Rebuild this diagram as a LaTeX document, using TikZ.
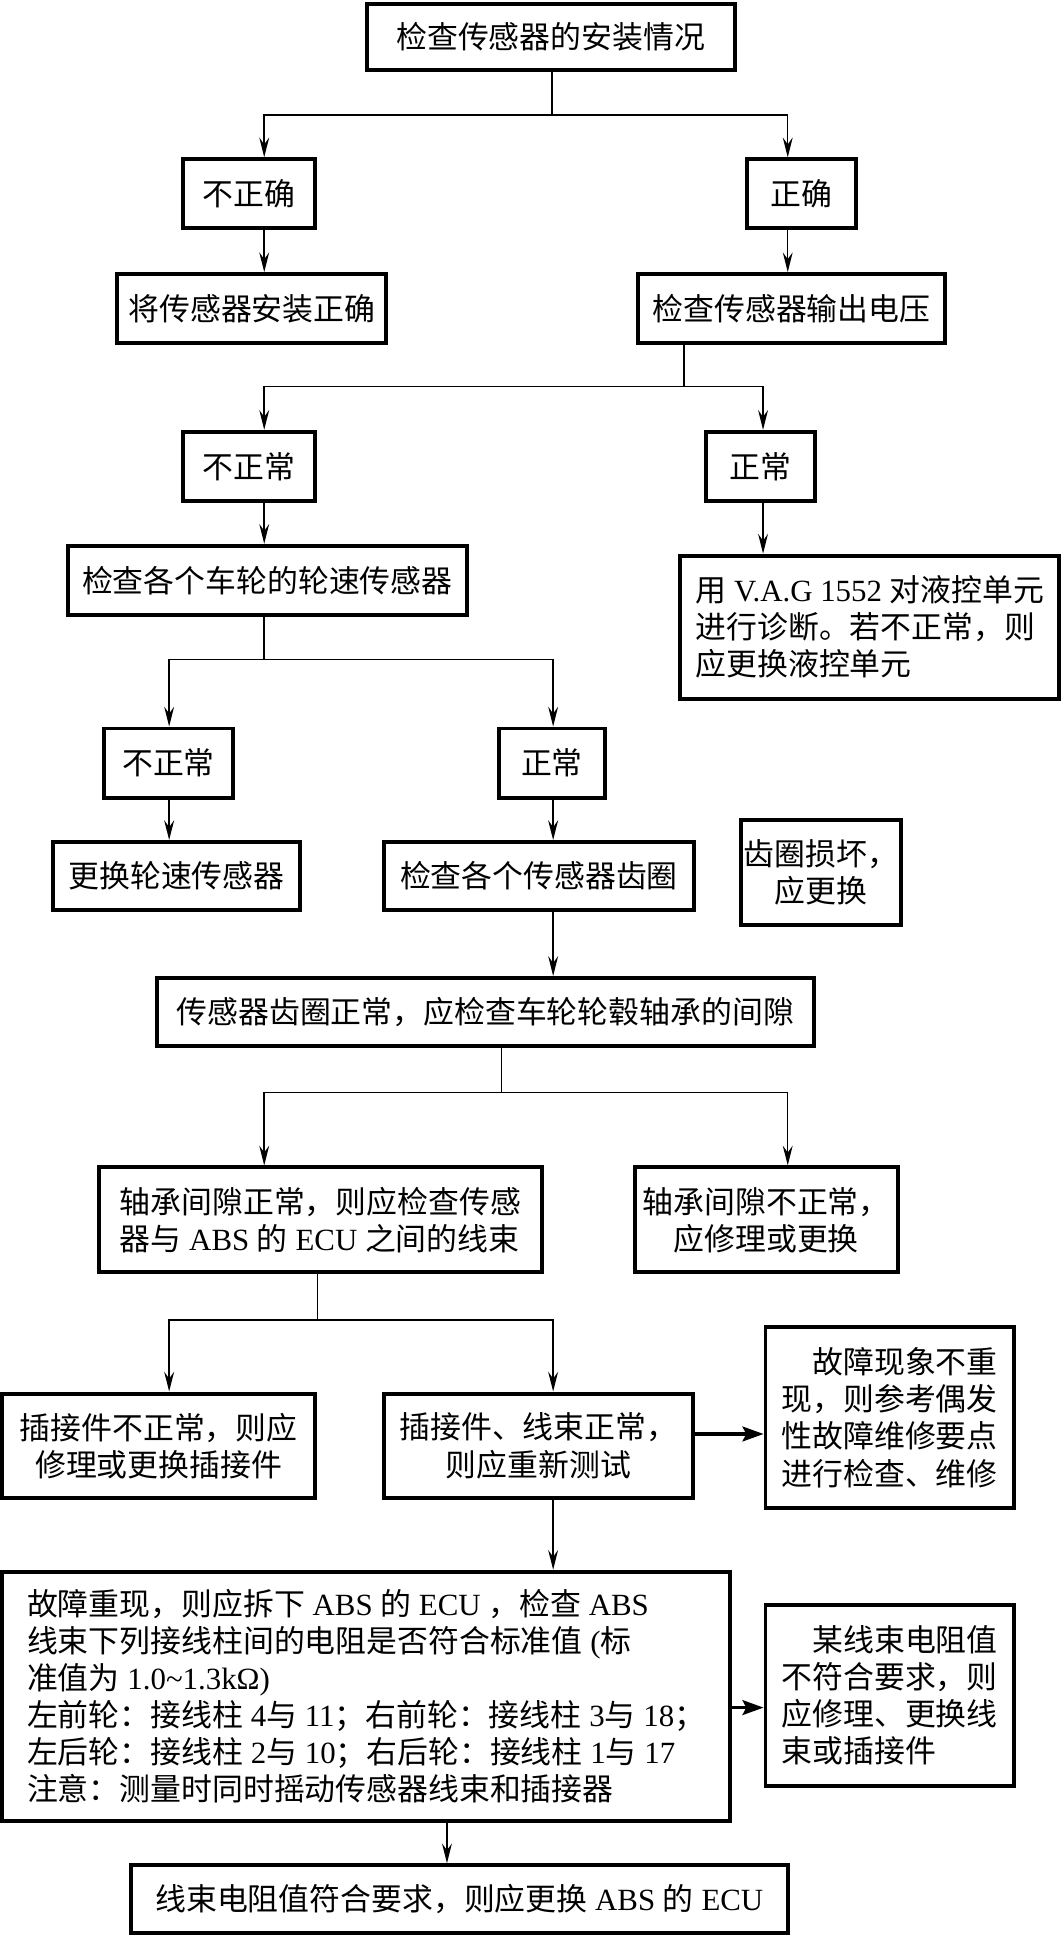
\documentclass[tikz,border=0pt]{standalone}
\usepackage{fontspec}
\setmainfont{Liberation Serif}
\newfontfamily\cjk{Noto Sans CJK SC}
\newfontfamily\lat{Liberation Serif}
\newcommand\EN[1]{{\lat #1}}
\usetikzlibrary{arrows.meta}
\tikzset{
  box/.style={draw, line width=3.2pt, inner sep=0pt, align=center},
  boxl/.style={draw, line width=3.2pt, inner sep=0pt, align=left},
  ln/.style={line width=1.2pt},
  arr/.style={line width=1.2pt, -{Stealth[length=16pt,width=8pt,inset=5.5pt]}},
  arrT/.style={line width=2.6pt, -{Stealth[length=17pt,width=12pt,inset=3pt]}},
}
\begin{document}
\begin{tikzpicture}[x=1pt,y=-1pt, font=\cjk\fontsize{25}{30}\selectfont]
\useasboundingbox (0,0) rectangle (860,1568);
% nodes
\node[box, minimum width=298pt, minimum height=54pt] (A) at (446,30) {检查传感器的安装情况};
\node[box, minimum width=107pt, minimum height=56pt] (B1) at (201.5,157) {不正确};
\node[box, minimum width=88pt, minimum height=56pt] (B2) at (649,157) {正确};
\node[box, minimum width=218pt, minimum height=55.5pt] (C1) at (204,249.75) {将传感器安装正确};
\node[box, minimum width=248pt, minimum height=55.5pt] (C2) at (641,249.75) {检查传感器输出电压};
\node[box, minimum width=107pt, minimum height=56pt] (D1) at (201.5,377.7) {不正常};
\node[box, minimum width=88pt, minimum height=56pt] (D2) at (616,377.7) {正常};
\node[box, minimum width=323pt, minimum height=56pt] (E1) at (216.5,470) {检查各个车轮的轮速传感器};
\node[boxl, minimum width=307pt, minimum height=116pt] (E2) at (704.5,508)
  {用\EN{ V.A.G 1552 }对液控单元\\进行诊断。若不正常，则\\应更换液控单元};
\node[box, minimum width=105pt, minimum height=56pt] (F1) at (136.5,618) {不正常};
\node[box, minimum width=86pt, minimum height=56pt] (F2) at (447,618) {正常};
\node[box, minimum width=200pt, minimum height=55pt] (G1) at (143,709.5) {更换轮速传感器};
\node[box, minimum width=251pt, minimum height=55pt] (G2) at (436.5,709.5) {检查各个传感器齿圈};
\node[box, minimum width=130pt, minimum height=84.5pt] (H) at (665,706.75) {齿圈损坏，\\应更换};
\node[box, minimum width=532pt, minimum height=55.5pt] (I) at (393,819.75) {传感器齿圈正常，应检查车轮轮毂轴承的间隙};
\node[boxl, minimum width=359pt, minimum height=85pt] (J1) at (259.5,988)
  {轴承间隙正常，则应检查传感\\器与\EN{ ABS }的\EN{ ECU }之间的线束};
\node[box, minimum width=213pt, minimum height=85pt] (J2) at (620.5,988) {轴承间隙不正常，\\应修理或更换};
\node[box, minimum width=253pt, minimum height=84.7pt] (K1) at (128.5,1171) {插接件不正常，则应\\修理或更换插接件};
\node[box, minimum width=250pt, minimum height=84.7pt] (K2) at (436,1171) {插接件、线束正常，\\则应重新测试};
\node[boxl, minimum width=201pt, minimum height=147pt] (K3) at (720.5,1148.2)
  {\hspace*{25pt}故障现象不重\\现，则参考偶发\\性故障维修要点\\进行检查、维修};
\node[boxl, minimum width=589pt, minimum height=202pt] (L) at (296.5,1374)
  {故障重现，则应拆下\EN{ ABS }的\EN{ ECU }，检查\EN{ ABS}\\
   线束下列接线柱间的电阻是否符合标准值\EN{ (}标\\
   准值为\EN{ 1.0\textasciitilde 1.3kΩ)}\\
   左前轮：接线柱\EN{ 4}与\EN{ 11}；右前轮：接线柱\EN{ 3}与\EN{ 18}；\\
   左后轮：接线柱\EN{ 2}与\EN{ 10}；右后轮：接线柱\EN{ 1}与\EN{ 17}\\
   注意：测量时同时摇动传感器线束和插接器};
\node[boxl, minimum width=201pt, minimum height=146.5pt] (M) at (720.5,1373.25)
  {\hspace*{25pt}某线束电阻值\\不符合要求，则\\应修理、更换线\\束或插接件};
\node[box, minimum width=532pt, minimum height=54.7pt] (N) at (372,1538) {线束电阻值符合要求，则应更换\EN{ ABS }的\EN{ ECU}};
% branch coordinates
\coordinate (s1) at (447,93);   \coordinate (s1l) at (214,93);   \coordinate (s1r) at (638,93);
\coordinate (s2) at (554,313);  \coordinate (s2l) at (214,313);  \coordinate (s2r) at (618,313);
\coordinate (s3) at (214,534);  \coordinate (s3l) at (137,534);  \coordinate (s3r) at (448,534);
\coordinate (s4) at (406,884.8);\coordinate (s4l) at (214,884.8);\coordinate (s4r) at (638,884.8);
\coordinate (s5) at (257,1069); \coordinate (s5l) at (137,1069); \coordinate (s5r) at (448,1069);
\coordinate (yk) at (0,1161.4); \coordinate (ym) at (0,1383); \coordinate (xn) at (362,0);
% connectors
\draw[ln] (A.south -| s1) -- (s1);
\draw[arr] (s1) -| (B1.north -| s1l);
\draw[arr] (s1) -| (B2.north -| s1r);
\draw[arr] (B1.south -| s1l) -- (C1.north -| s1l);
\draw[arr] (B2.south -| s1r) -- (C2.north -| s1r);
\draw[ln] (C2.south -| s2) -- (s2);
\draw[arr] (s2) -| (D1.north -| s2l);
\draw[arr] (s2) -| (D2.north -| s2r);
\draw[arr] (D1.south -| s2l) -- (E1.north -| s2l);
\draw[arr] (D2.south -| s2r) -- (E2.north -| s2r);
\draw[ln] (E1.south -| s3) -- (s3);
\draw[arr] (s3) -| (F1.north -| s3l);
\draw[arr] (s3) -| (F2.north -| s3r);
\draw[arr] (F1.south -| s3l) -- (G1.north -| s3l);
\draw[arr] (F2.south -| s3r) -- (G2.north -| s3r);
\draw[arr] (G2.south -| s3r) -- (I.north -| s3r);
\draw[ln] (I.south -| s4) -- (s4);
\draw[arr] (s4) -| (J1.north -| s4l);
\draw[arr] (s4) -| (J2.north -| s4r);
\draw[ln] (J1.south -| s5) -- (s5);
\draw[arr] (s5) -| (K1.north -| s5l);
\draw[arr] (s5) -| (K2.north -| s5r);
\draw[arrT] (K2.east |- yk) -- (K3.west |- yk);
\draw[arr] (K2.south -| s5r) -- (L.north -| s5r);
\draw[arrT] (L.east |- ym) -- (M.west |- ym);
\draw[arr] (L.south -| xn) -- (N.north -| xn);
\end{tikzpicture}
\end{document}
